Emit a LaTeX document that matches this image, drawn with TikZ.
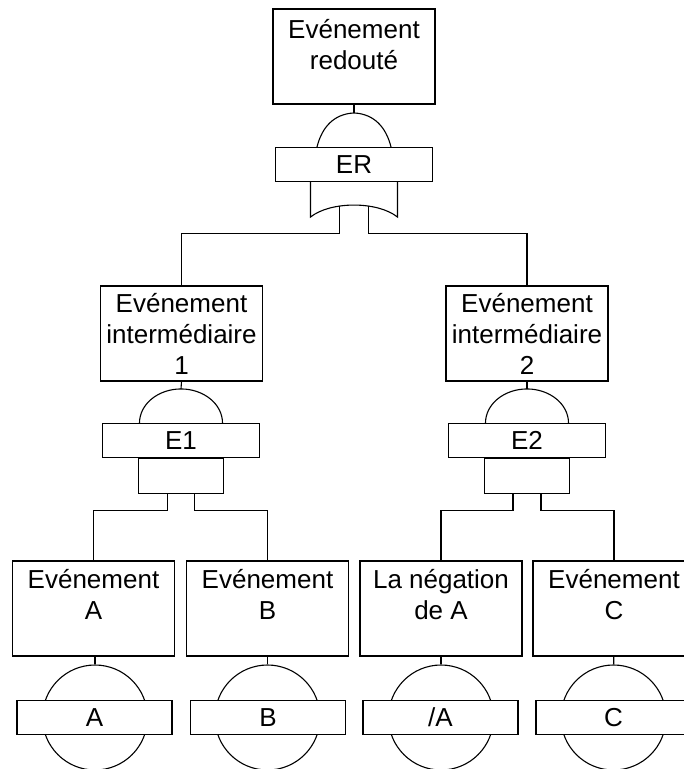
\documentclass[tikz,border=0pt]{standalone}
\usepackage{fontspec}
\setmainfont{Liberation Sans}
\usetikzlibrary{positioning, calc}

\begin{document}
\begin{tikzpicture}[x=1pt, y=1pt, line width=1.1pt,
  font=\fontsize{26}{31}\selectfont,
  evbox/.style={draw, rectangle, minimum width=162pt, minimum height=95pt, inner sep=0pt},
  evtext/.style={anchor=north, align=center, inner sep=0pt},
  gatebox/.style={draw, fill=white, rectangle, minimum width=157pt, minimum height=34pt, inner sep=0pt},
  basic/.style={draw, circle, minimum size=105pt, inner sep=0pt}
]
\useasboundingbox (0,0) rectangle (684,-769);

% Top event + OR gate
\node[evbox] (top) at (354,-56.5) {};
\node[evtext] (top_txt) at ([yshift=-10pt]top.north) {Evénement\\redouté};
\node[gatebox] (er) at (354,-164.5) {ER};
\coordinate (er_in) at ([yshift=34pt]er.north);
\draw ([xshift=-37pt]er.north) .. controls +(5,20) and +(-20,-1) .. (er_in)
  .. controls +(20,-1) and +(-5,20) .. ([xshift=37pt]er.north);
\draw ([xshift=-43.5pt]er.south) -- ++(0,-35) .. controls +(20,16) and +(-20,16) .. ([xshift=43.5pt,yshift=-35pt]er.south) -- ([xshift=43.5pt]er.south);
\coordinate (er_o1) at ([xshift=-14.5pt,yshift=-23.5pt]er.south);
\coordinate (er_o2) at ([xshift=14.5pt,yshift=-23.5pt]er.south);
\draw (top.south) -- (er_in);

% Intermediate events
\node[evbox] (ei1) at (181.5,-333.5) {};
\node[evtext] (ei1_txt) at ([yshift=-7pt]ei1.north) {\fontsize{26}{28.5}\selectfont Evénement\\intermédiaire\\1};
\node[evbox] (ei2) at (527,-333.5) {};
\node[evtext] (ei2_txt) at ([yshift=-7pt]ei2.north) {\fontsize{26}{28.5}\selectfont Evénement\\intermédiaire\\2};
\draw (er_o1) -- ++(0,-28) -| (ei1.north);
\draw (er_o2) -- ++(0,-28) -| (ei2.north);

% AND gate E1
\node[gatebox] (e1) at (181,-440.5) {E1};
\coordinate (e1_in) at ([yshift=34pt]e1.north);
\draw ([xshift=-41.5pt]e1.north) arc[start angle=180, end angle=0, x radius=41.5pt, y radius=34pt];
\draw ([xshift=-42.5pt]e1.south) rectangle ([xshift=42.5pt,yshift=-35pt]e1.south);
\coordinate (e1_o1) at ([xshift=-13.5pt,yshift=-35pt]e1.south);
\coordinate (e1_o2) at ([xshift=13.5pt,yshift=-35pt]e1.south);
\draw (ei1.south) -- (e1_in);

% AND gate E2
\node[gatebox] (e2) at (527,-440.5) {E2};
\coordinate (e2_in) at ([yshift=34pt]e2.north);
\draw ([xshift=-41.5pt]e2.north) arc[start angle=180, end angle=0, x radius=41.5pt, y radius=34pt];
\draw ([xshift=-42.5pt]e2.south) rectangle ([xshift=42.5pt,yshift=-35pt]e2.south);
\coordinate (e2_o1) at ([xshift=-14pt,yshift=-35pt]e2.south);
\coordinate (e2_o2) at ([xshift=14pt,yshift=-35pt]e2.south);
\draw (ei2.south) -- (e2_in);

% Basic events
\node[evbox] (evA) at (93.5,-608.5) {};
\node[evtext] (evA_txt) at ([yshift=-8pt]evA.north) {\fontsize{26}{32}\selectfont Evénement\\A};
\node[evbox] (evB) at (267.5,-608.5) {};
\node[evtext] (evB_txt) at ([yshift=-8pt]evB.north) {\fontsize{26}{32}\selectfont Evénement\\B};
\node[evbox] (evN) at (441,-608.5) {};
\node[evtext] (evN_txt) at ([yshift=-8pt]evN.north) {\fontsize{26}{32}\selectfont La négation\\de A};
\node[evbox] (evC) at (614,-608.5) {};
\node[evtext] (evC_txt) at ([yshift=-8pt]evC.north) {\fontsize{26}{32}\selectfont Evénement\\C};

\draw (e1_o1) -- ++(0,-17) -| (evA.north);
\draw (e1_o2) -- ++(0,-17) -| (evB.north);
\draw (e2_o1) -- ++(0,-17) -| (evN.north);
\draw (e2_o2) -- ++(0,-17) -| (evC.north);

\node[basic] (cA) at (95,-717.5) {};
\node[basic] (cB) at (267.5,-717.5) {};
\node[basic] (cN) at (441,-717.5) {};
\node[basic] (cC) at (613.5,-717.5) {};
\node[gatebox, minimum width=155pt] (gA) at (94.5,-717.5) {A};
\node[gatebox, minimum width=155pt] (gB) at (268,-717.5) {B};
\node[gatebox, minimum width=155pt] (gN) at (440.5,-717.5) {/A};
\node[gatebox, minimum width=155pt] (gC) at (613.5,-717.5) {C};
\draw (evA.south -| cA.north) -- (cA.north);
\draw (evB) -- (cB);
\draw (evN) -- (cN);
\draw (evC) -- (cC);

\end{tikzpicture}
\end{document}
